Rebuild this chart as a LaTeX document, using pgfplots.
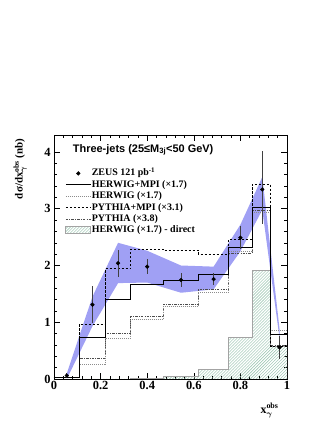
\documentclass[border=0pt]{standalone}
\usepackage{amsmath}
\usepackage{pgfplots}
\pgfplotsset{compat=1.18}
\usepackage{fontspec}
\setmainfont{Liberation Serif}
\newfontfamily\helv{Liberation Sans}
\usetikzlibrary{patterns}
\definecolor{band}{HTML}{A0A0F4}
\definecolor{hatchc}{HTML}{8FBFA8}
\definecolor{hgray}{HTML}{8C8C8C}
\pgfplotsset{
  lineleg/.style={legend image code/.code={\draw[##1] (0bp,0bp) -- (25bp,0bp);}},
  dotleg/.style={legend image code/.code={\fill[black] (12.5bp,0bp) circle (1.9bp);}},
  boxleg/.style={legend image code/.code={\draw[##1] (0bp,-3.5bp) rectangle (25bp,3.5bp);}},
  hmpi/.style={black,line width=0.9bp},
  hw/.style={hgray,line width=0.9bp,dash pattern=on 1bp off 1bp},
  pmpi/.style={black,line width=0.9bp,dash pattern=on 2.5bp off 1.5bp},
  py/.style={black!70,line width=0.9bp,dash pattern=on 2.5bp off 1.2bp on 0.8bp off 1.2bp},
  dir/.style={draw=hgray!80,line width=0.8bp,pattern=north east lines,pattern color=hatchc},
}
\begin{document}
\begin{tikzpicture}
\path[use as bounding box] (0bp,0bp) rectangle (327bp,423bp);
\begin{axis}[at={(54bp,44bp)}, anchor=south west, scale only axis,
  width=233bp, height=244bp,
  xmin=0, xmax=1, ymin=0, ymax=4.3,
  xtick={0,0.2,0.4,0.6,0.8,1}, ytick={0,1,2,3,4},
  minor x tick num=4, minor y tick num=4,
  tick align=inside, major tick length=6bp, minor tick length=3bp,
  tick style={black,line width=0.6bp},
  axis line style={line width=0.9bp},
  xticklabels={0,0.2,0.4,0.6,0.8,1},
  yticklabels={0,1,2,3,4},
  ticklabel style={font=\bfseries\fontsize{12.5}{12.5}\selectfont},
  xticklabel style={yshift=1bp},
  xlabel={$\textbf{x}^{\textbf{obs}}_{\boldsymbol{\gamma}}$},
  xlabel style={at={(axis description cs:0.925,-0.085)},anchor=north,font=\bfseries\fontsize{12}{12}\selectfont},
  ylabel={\textbf{dσ/d}$\textbf{x}^{\textbf{obs}}_{\boldsymbol{\gamma}}$ \textbf{(nb)}},
  ylabel style={at={(axis description cs:-0.145,1)},anchor=east,font=\bfseries\fontsize{11}{11}\selectfont},
  legend style={draw=none,fill=none,at={(axis description cs:0.035,0.875)},anchor=north west,
    font=\bfseries\fontsize{10}{10}\selectfont,row sep=0pt,
    nodes={inner sep=0.6bp,text height=7.6bp,text depth=2.6bp},
    /tikz/every even column/.append style={column sep=3bp}},
  legend cell align=left,
  clip=true,
]
% energy-scale band
\addplot[fill=band,draw=none,forget plot] coordinates {
  (0.055,0.10) (0.165,1.45) (0.275,2.40) (0.40,2.26) (0.545,2.00) (0.685,1.98)
  (0.80,2.72) (0.894,3.56) (0.968,0.88)
  (0.968,0.72) (0.894,2.98) (0.80,2.25) (0.685,1.58) (0.545,1.52) (0.40,1.70)
  (0.275,1.69) (0.165,0.93) (0.055,0.00)} -- cycle;
% HERWIG direct (hatched)
\addplot[const plot,dir,forget plot] coordinates {
  (0,0) (0.11,0) (0.22,0) (0.33,0.005) (0.47,0.04) (0.62,0.17) (0.75,0.73)
  (0.85,1.91) (0.93,0.57) (1,0.57)} \closedcycle;
% PYTHIA x3.8
\addplot[const plot,py,forget plot] coordinates {
  (0,0.02) (0.11,0.36) (0.22,0.80) (0.33,1.10) (0.47,1.32) (0.62,1.57) (0.75,2.22)
  (0.85,2.97) (0.93,0.60) (1,0.60)};
% HERWIG x1.7
\addplot[const plot,hw,forget plot] coordinates {
  (0,0.02) (0.11,0.26) (0.22,0.72) (0.33,1.05) (0.47,1.28) (0.62,1.53) (0.75,2.25)
  (0.85,2.94) (0.93,0.85) (1,0.85)};
% PYTHIA+MPI x3.1
\addplot[const plot,pmpi,forget plot] coordinates {
  (0,0.03) (0.11,0.97) (0.22,1.94) (0.33,2.29) (0.47,2.27) (0.62,2.20) (0.75,2.46)
  (0.85,3.43) (0.93,0.57) (1,0.57)};
% HERWIG+MPI x1.7
\addplot[const plot,hmpi,forget plot] coordinates {
  (0,0.02) (0.11,0.73) (0.22,1.40) (0.33,1.66) (0.47,1.73) (0.62,1.84) (0.75,2.32)
  (0.85,3.02) (0.93,0.79) (1,0.79)};
% ZEUS data
\addplot[only marks,mark=*,mark size=1.9bp,black,forget plot,
  error bars/.cd,y dir=both,y explicit,error mark=none,
  error bar style={line width=0.9bp,black!75}] coordinates {
  (0.055,0.06) +- (0,0.05)
  (0.165,1.31) +- (0,0.33)
  (0.275,2.04) +- (0,0.24)
  (0.40,1.98) +- (0,0.13)
  (0.545,1.745) +- (0,0.12)
  (0.685,1.76) +- (0,0.11)
  (0.80,2.49) +- (0,0.20)
  (0.894,3.34) += (0,0.67) -= (0,0.61)
  (0.968,0.556) +- (0,0.20)};
\addlegendimage{dotleg}
\addlegendentry{ZEUS 121 pb\textsuperscript{-1}}
\addlegendimage{lineleg,hmpi}
\addlegendentry{HERWIG+MPI (×1.7)}
\addlegendimage{lineleg,hw}
\addlegendentry{HERWIG (×1.7)}
\addlegendimage{lineleg,pmpi}
\addlegendentry{PYTHIA+MPI (×3.1)}
\addlegendimage{lineleg,py}
\addlegendentry{PYTHIA (×3.8)}
\addlegendimage{boxleg,dir}
\addlegendentry{HERWIG (×1.7) - direct}
\node[anchor=west,font=\helv\bfseries\fontsize{11}{11}\selectfont] at (axis description cs:0.066,0.939)
  {Three-jets (25≤M\textsubscript{3j}<50 GeV)};
\end{axis}
\end{tikzpicture}
\end{document}
